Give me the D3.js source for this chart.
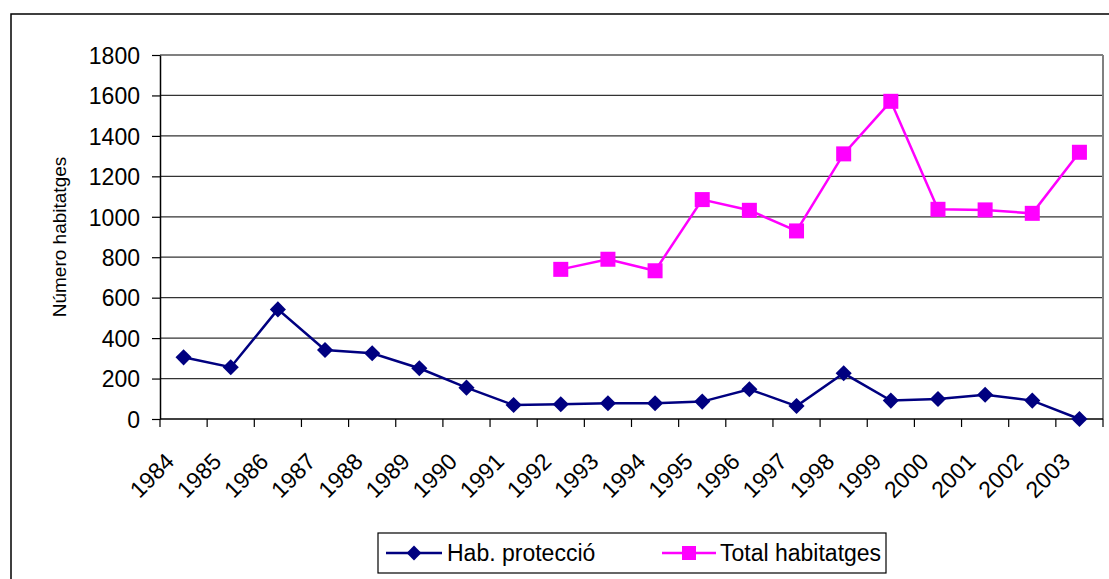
<!DOCTYPE html>
<html>
<head>
<meta charset="utf-8">
<script src="https://cdn.jsdelivr.net/npm/d3@7"></script>
<style>
  body { margin: 0; background: #fff; }
  svg text { font-family: Arial, "Liberation Sans", sans-serif; fill: #000; }
</style>
</head>
<body>
<svg id="chart"></svg>
<script>
// Data
var years = ['1984', '1985', '1986', '1987', '1988', '1989', '1990', '1991', '1992', '1993',
             '1994', '1995', '1996', '1997', '1998', '1999', '2000', '2001', '2002', '2003'];
var habProteccio = [305, 256, 542, 341, 325, 251, 155, 69, 73, 78,
                    78, 86, 147, 64, 226, 91, 99, 120, 91, 0];
var totalHabitatges = [null, null, null, null, null, null, null, null, 740, 790,
                       733, 1085, 1032, 930, 1311, 1571, 1037, 1034, 1017, 1319];
var yTicks = [0, 200, 400, 600, 800, 1000, 1200, 1400, 1600, 1800];
var seriesNames = ['Hab. protecció', 'Total habitatges'];

var W = 1109, H = 579;
var plot = {left: 160, right: 1103, top: 55, bottom: 419};

var svg = d3.select("#chart")
    .attr("width", W)
    .attr("height", H);

// outer chart frame
svg.append("rect")
    .attr("x", 11).attr("y", 14)
    .attr("width", W + 20).attr("height", H + 20)
    .attr("fill", "none")
    .attr("stroke", "#000")
    .attr("stroke-width", 1.5);

var x = d3.scaleBand()
    .domain(years)
    .range([plot.left, plot.right])
    .padding(0);
var y = d3.scaleLinear()
    .domain([0, 1800])
    .range([plot.bottom, plot.top]);
var cx = function (d) { return x(d) + x.bandwidth() / 2; };

// gridlines
svg.append("g")
    .selectAll("line")
    .data(yTicks.slice(1))
    .enter().append("line")
    .attr("x1", plot.left).attr("x2", plot.right)
    .attr("y1", function (d) { return y(d); })
    .attr("y2", function (d) { return y(d); })
    .attr("stroke", function (d) { return d == 1800 ? "#808080" : "#333"; })
    .attr("stroke-width", function (d) { return d == 1800 ? 2 : 1.2; });

// right border of plot area
svg.append("line")
    .attr("x1", plot.right).attr("x2", plot.right)
    .attr("y1", plot.top).attr("y2", plot.bottom)
    .attr("stroke", "#808080").attr("stroke-width", 2);

// y axis
var yAxis = svg.append("g")
    .attr("transform", "translate(" + plot.left + ",0)")
    .call(d3.axisLeft(y).tickValues(yTicks).tickFormat(d3.format("d"))
        .tickSize(8).tickPadding(12).tickSizeOuter(0));
yAxis.select(".domain").attr("stroke", "#000").attr("stroke-width", 1.5);
yAxis.selectAll(".tick line").attr("stroke", "#000").attr("stroke-width", 1.2);
yAxis.selectAll("text").style("font-size", "23px").attr("dy", "0.36em");

// x axis line + ticks at band boundaries
svg.append("line")
    .attr("x1", plot.left).attr("x2", plot.right)
    .attr("y1", plot.bottom).attr("y2", plot.bottom)
    .attr("stroke", "#000").attr("stroke-width", 1.5);
svg.append("g")
    .selectAll("line")
    .data(years.concat(["end"]))
    .enter().append("line")
    .attr("x1", function (d, i) { return plot.left + i * x.bandwidth(); })
    .attr("x2", function (d, i) { return plot.left + i * x.bandwidth(); })
    .attr("y1", plot.bottom).attr("y2", plot.bottom + 8)
    .attr("stroke", "#000").attr("stroke-width", 1.2);

// rotated year labels
svg.append("g")
    .selectAll("text")
    .data(years)
    .enter().append("text")
    .attr("transform", function (d) { return "translate(" + (cx(d) - 8) + "," + (plot.bottom + 44) + ") rotate(-45)"; })
    .attr("text-anchor", "end")
    .style("font-size", "23px")
    .text(function (d) { return d; });

// y axis title
svg.append("text")
    .attr("transform", "translate(66,237) rotate(-90)")
    .attr("text-anchor", "middle")
    .style("font-size", "19px")
    .text("Número habitatges");

var line = d3.line()
    .defined(function (d) { return d != null; })
    .x(function (d, i) { return cx(years[i]); })
    .y(function (d) { return y(d); });

// Hab. protecció
svg.append("path")
    .datum(habProteccio)
    .attr("d", line)
    .attr("fill", "none")
    .attr("stroke", "#000080")
    .attr("stroke-width", 2.5);
var diamond = d3.symbol().type(d3.symbolSquare).size(130);
svg.append("g")
    .selectAll("path")
    .data(habProteccio)
    .enter().append("path")
    .attr("d", diamond)
    .attr("transform", function (d, i) { return "translate(" + cx(years[i]) + "," + y(d) + ") rotate(45)"; })
    .attr("fill", "#000080");

// Total habitatges
svg.append("path")
    .datum(totalHabitatges)
    .attr("d", line)
    .attr("fill", "none")
    .attr("stroke", "#FF00FF")
    .attr("stroke-width", 2.5);
svg.append("g")
    .selectAll("rect")
    .data(totalHabitatges.map(function (v, i) { return {year: years[i], v: v}; }).filter(function (d) { return d.v != null; }))
    .enter().append("rect")
    .attr("x", function (d) { return cx(d.year) - 7.5; })
    .attr("y", function (d) { return y(d.v) - 7.5; })
    .attr("width", 15).attr("height", 15)
    .attr("fill", "#FF00FF");

// legend
var lg = svg.append("g").attr("transform", "translate(378,533)");
lg.append("rect")
    .attr("width", 508).attr("height", 40)
    .attr("fill", "#fff").attr("stroke", "#000").attr("stroke-width", 1.2);
lg.append("line").attr("x1", 8).attr("x2", 64).attr("y1", 20).attr("y2", 20)
    .attr("stroke", "#000080").attr("stroke-width", 2.5);
lg.append("path").attr("d", d3.symbol().type(d3.symbolSquare).size(110))
    .attr("transform", "translate(36,20) rotate(45)").attr("fill", "#000080");
lg.append("text").attr("x", 69).attr("y", 28).style("font-size", "23px").text(seriesNames[0]);
lg.append("line").attr("x1", 284).attr("x2", 338).attr("y1", 20).attr("y2", 20)
    .attr("stroke", "#FF00FF").attr("stroke-width", 2.5);
lg.append("rect").attr("x", 304).attr("y", 13).attr("width", 14).attr("height", 14)
    .attr("fill", "#FF00FF");
lg.append("text").attr("x", 342).attr("y", 28).style("font-size", "23px").text(seriesNames[1]);
</script>
</body>
</html>
